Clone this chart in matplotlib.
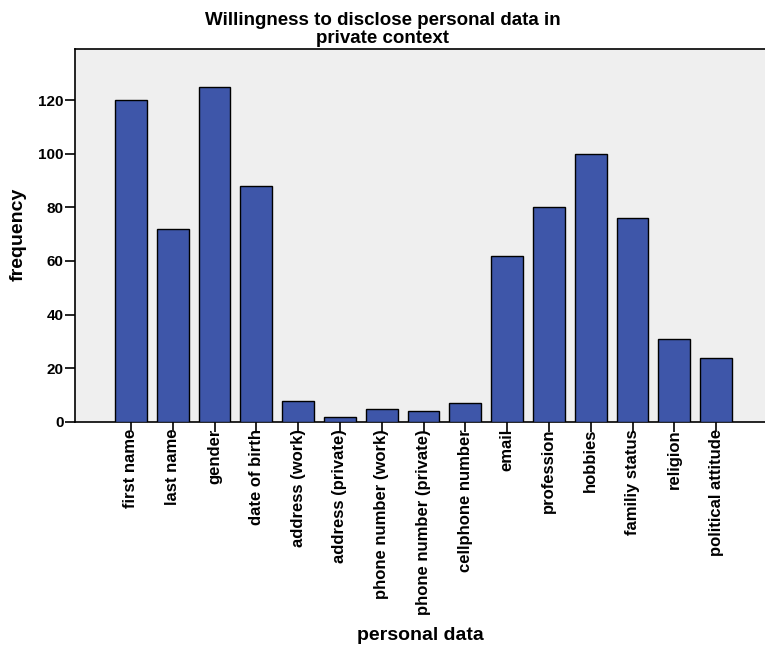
import matplotlib
matplotlib.use("Agg")
import matplotlib.pyplot as plt

# data
categories = ["first name", "last name", "gender", "date of birth",
              "address (work)", "address (private)", "phone number (work)",
              "phone number (private)", "cellphone number", "email",
              "profession", "hobbies", "familiy status", "religion",
              "political attitude"]
frequency = [120, 72, 125, 88, 8, 2, 5, 4, 7, 62, 80, 100, 76, 31, 24]
yticks = [0, 20, 40, 60, 80, 100, 120]

plt.rcParams['font.family'] = ['Liberation Sans', 'DejaVu Sans']

fig = plt.figure(figsize=(7.65, 6.52), dpi=100)
ax = fig.add_axes([0.098, 0.3528, 0.902, 0.572])
ax.set_facecolor('#efefef')

x = list(range(len(categories)))
ax.bar(x, frequency, width=0.76, color='#3e56a9', edgecolor='black', linewidth=1, zorder=3)

ax.set_xlim(-1.34, 15.17)
ax.set_ylim(0, 139)
ax.set_xticks(x)
ax.set_xticklabels(categories, rotation=90, fontsize=12, fontweight='bold')
ax.set_yticks(yticks)
ax.set_yticklabels([str(v) for v in yticks], fontsize=11, fontweight='bold')
ax.tick_params(axis='both', direction='out', length=7, width=1.2, color='black')
ax.tick_params(axis='x', pad=-2)
ax.tick_params(axis='y', pad=1)

for s in ['left', 'top', 'bottom']:
    ax.spines[s].set_color('black')
    ax.spines[s].set_linewidth(1.2)
ax.spines['right'].set_visible(False)

fig.text(0.024, 0.64, 'frequency', rotation=90, ha='center', va='center', fontsize=14, fontweight='bold')
fig.text(0.549, 0.012, 'personal data', ha='center', va='bottom', fontsize=14, fontweight='bold')

fig.text(0.5, 0.982, 'Willingness to disclose personal data in\nprivate context',
         ha='center', va='top', fontsize=13.5, fontweight='bold', linespacing=1.08)

fig.savefig('out.png', dpi=100)
